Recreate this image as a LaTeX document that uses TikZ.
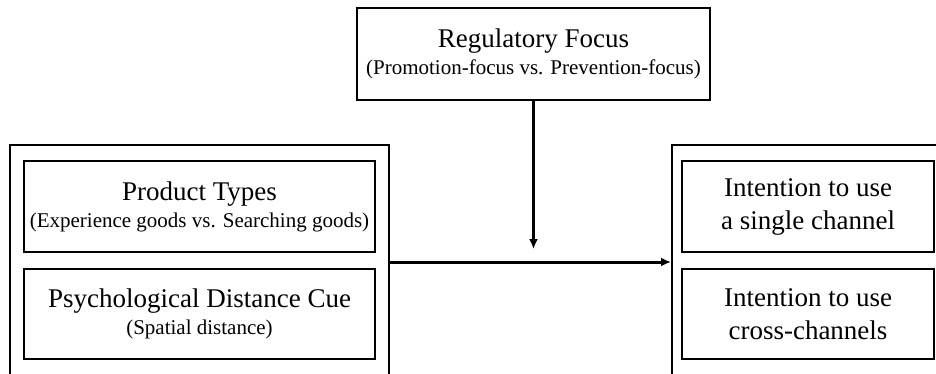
\documentclass[tikz,border=0pt]{standalone}
\usepackage{fontspec}
\setmainfont{Liberation Serif}
\usetikzlibrary{arrows.meta}

\begin{document}
\begin{tikzpicture}[x=0.5pt, y=-0.5pt, line width=1pt,
  every node/.style={rectangle, draw, inner sep=0pt, align=center, font=\fontsize{13.5}{16.5}\selectfont},
  link/.style={line width=1.5pt, -{Latex[length=5pt, width=4.5pt]}}]
  \useasboundingbox (0,0) rectangle (936,374);
  \clip (0,0) rectangle (936,374);
  \node (indep) [minimum width=189.5pt, minimum height=117pt] at (199.5, 262) {};
  \node (dep) [minimum width=145pt, minimum height=117pt] at (817, 262) {};
  \node (reg) [minimum width=176.5pt, minimum height=46pt] at (533.5, 54) {Regulatory Focus\\[-3pt] {\fontsize{10.5}{15}\selectfont (Promotion-focus vs. Prevention-focus)}};
  \node (type) [minimum width=175.5pt, minimum height=45.5pt] at (199.5, 206.5) {Product Types\\[-3pt] {\fontsize{10.5}{15}\selectfont (Experience goods vs. Searching goods)}};
  \node (cue) [minimum width=175.5pt, minimum height=45pt] at (199.5, 314) {Psychological Distance Cue\\[-3pt] {\fontsize{10.5}{15}\selectfont (Spatial distance)}};
  \node (single) [minimum width=126pt, minimum height=45.5pt] at (808, 206.5) {Intention to use\\a single channel};
  \node (cross) [minimum width=126pt, minimum height=45pt] at (808, 314) {Intention to use\\cross-channels};
  \coordinate (tip) at (533.5, 249);
  \draw[link] (indep) -- (dep);
  \draw[link] (reg) -- (tip);
\end{tikzpicture}
\end{document}
